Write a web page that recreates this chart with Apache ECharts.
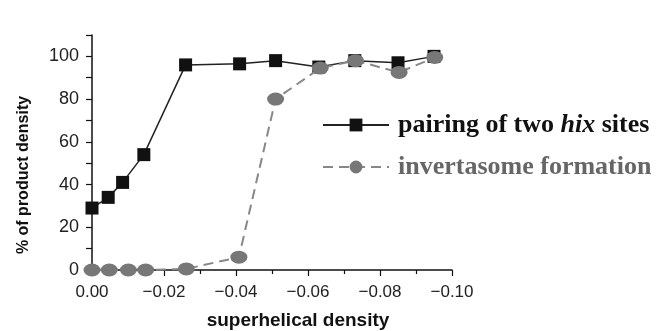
<!DOCTYPE html>
<html>
<head>
<meta charset="utf-8">
<script src="https://cdn.jsdelivr.net/npm/echarts@6/dist/echarts.min.js"></script>
<style>
html,body{margin:0;padding:0;background:#fff;}
#chart{width:668px;height:331px;}
</style>
</head>
<body>
<div id="chart"></div>
<script>
// ---- data ----
const pairingX = [0, -0.0045, -0.0085, -0.0144, -0.026, -0.041, -0.051, -0.063, -0.073, -0.085, -0.095];
const pairingY = [29, 34, 41, 54, 96, 96.5, 98, 95, 98, 97, 100];
const invertX = [0, -0.0048, -0.0101, -0.0149, -0.0262, -0.0408, -0.051, -0.0634, -0.0732, -0.0853, -0.0952];
const invertY = [0, 0, 0, 0, 0.5, 6, 80, 94.5, 98, 92.5, 99.5];
const seriesNames = ['pairing of two hix sites', 'invertasome formation'];
const xTitle = 'superhelical density';
const yTitle = '% of product density';

function zip(xs, ys) { return xs.map((x, i) => [x, ys[i]]); }

const ellipse = 'path://M0,6.5a9,6.5 0 1,0 18,0a9,6.5 0 1,0 -18,0z';

const chart = echarts.init(document.getElementById('chart'), null, {renderer: 'canvas'});
chart.setOption({
  animation: false,
  backgroundColor: '#fff',
  grid: {left: 92, right: 216, top: 35, bottom: 61, containLabel: false},
  xAxis: {
    type: 'value', inverse: true, min: -0.1, max: 0, interval: 0.02,
    axisLine: {show: true, onZero: false, lineStyle: {color: '#111', width: 1.5}},
    axisTick: {show: true, length: 6, lineStyle: {color: '#111', width: 1.2}},
    minorTick: {show: true, splitNumber: 2, length: 4, lineStyle: {color: '#111', width: 1.2}},
    splitLine: {show: false},
    axisLabel: {
      margin: 14, color: '#222', fontSize: 17, fontFamily: 'Liberation Sans, Arial, sans-serif',
      formatter: v => Math.abs(v) < 1e-9 ? '0.00' : '\u2212' + Math.abs(v).toFixed(2)
    }
  },
  yAxis: {
    type: 'value', min: 0, max: 110, interval: 10,
    axisLine: {show: true, lineStyle: {color: '#111', width: 1.5}},
    axisTick: {show: true, length: 6, lineStyle: {color: '#111', width: 1.2}},
    splitLine: {show: false},
    axisLabel: {
      margin: 13, color: '#222', fontSize: 18, fontFamily: 'Liberation Sans, Arial, sans-serif',
      formatter: v => (Math.round(v) % 20 === 0 && v <= 100) ? String(Math.round(v)) : ''
    }
  },
  legend: {
    orient: 'vertical', left: 322, top: 112, padding: 0, itemWidth: 66, itemHeight: 16, itemGap: 16,
    data: [
      {name: seriesNames[0], textStyle: {color: '#111'}},
      {name: seriesNames[1], textStyle: {color: '#666'}}
    ],
    textStyle: {
      fontFamily: 'Liberation Serif, Times New Roman, serif', fontWeight: 'bold', fontSize: 26,
      padding: [0, 0, 0, 4],
      rich: {
        n: {fontFamily: 'Liberation Serif, serif', fontWeight: 'bold', fontSize: 26, color: '#111'},
        it: {fontFamily: 'Liberation Serif, serif', fontWeight: 'bold', fontStyle: 'italic', fontSize: 26, color: '#111'},
        g: {fontFamily: 'Liberation Serif, serif', fontWeight: 'bold', fontSize: 26, color: '#666'}
      }
    },
    formatter: name => name === seriesNames[0]
      ? '{n|pairing of two }{it|hix}{n| sites}'
      : '{g|' + name + '}'
  },
  graphic: [
    {type: 'text', x: 298, y: 321, style: {
      text: xTitle, fill: '#111', font: 'bold 19px "Liberation Sans", Arial, sans-serif',
      textAlign: 'center', textVerticalAlign: 'middle'}},
    {type: 'text', x: 24, y: 175, rotation: Math.PI / 2, style: {
      text: yTitle, fill: '#111', font: 'bold 16px "Liberation Sans", Arial, sans-serif',
      textAlign: 'center', textVerticalAlign: 'middle'}}
  ],
  series: [
    {
      name: seriesNames[0], type: 'line', data: zip(pairingX, pairingY), clip: false, z: 2,
      symbol: 'rect', symbolSize: 13,
      itemStyle: {color: '#111'},
      lineStyle: {color: '#222', width: 1.5}
    },
    {
      name: seriesNames[1], type: 'line', data: zip(invertX, invertY), clip: false, z: 3,
      symbol: ellipse, symbolSize: [17, 13],
      itemStyle: {color: '#777'},
      lineStyle: {color: '#888', width: 2, type: [10, 6]}
    }
  ]
});
</script>
</body>
</html>
